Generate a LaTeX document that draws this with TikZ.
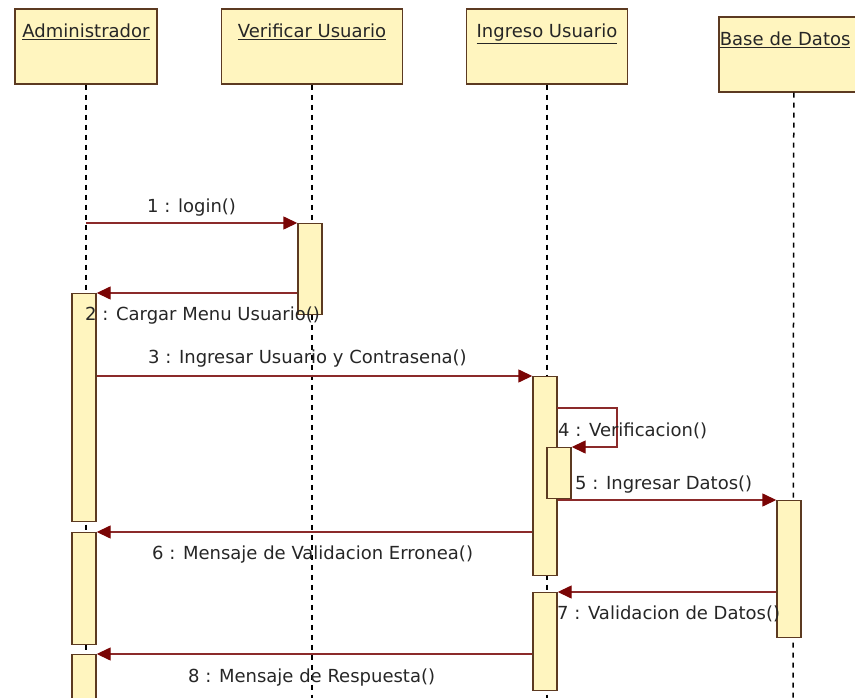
\documentclass[tikz,border=0pt]{standalone}
\usepackage{fontspec}
\setmainfont{DejaVu Sans}
\usepackage{tikz}
\usetikzlibrary{arrows.meta}
\definecolor{objfill}{HTML}{FFF5BF}
\definecolor{objdraw}{HTML}{5C3A21}
\definecolor{msgline}{HTML}{8B2A2A}
\definecolor{msghead}{HTML}{7A0505}
\definecolor{txtgray}{HTML}{262626}

\begin{document}
\begin{tikzpicture}[x=1pt, y=-1pt,
  every node/.style={font=\fontsize{18}{20}\selectfont, text=txtgray},
  objbox/.style={draw=objdraw, fill=objfill, line width=1.6pt, anchor=north, inner xsep=0pt, inner ysep=7pt, text height=22pt, text depth=39pt},
  actbox/.style={draw=objdraw, fill=objfill, line width=1.4pt, anchor=north, minimum width=24pt, inner sep=0pt},
  lifeline/.style={black, line width=1.5pt, dash pattern=on 5pt off 5pt},
  msg/.style={msgline, line width=1.4pt, -{Triangle[length=14pt, width=13pt, color=msghead]}},
  msglabel/.style={anchor=base west, inner sep=0pt}]
  \useasboundingbox (0,0) rectangle (855,698);
  \clip (0,0) rectangle (855,698);
  \node[objbox, minimum width=142pt] (admin) at (86,8) {\underline{Administrador}};
  \node[objbox, minimum width=181pt] (verif) at (312,8) {\underline{Verificar Usuario}};
  \node[objbox, minimum width=161pt] (ingreso) at (547,8) {\underline{Ingreso Usuario}};
  \node[objbox, anchor=north west, text width=148pt, align=left, inner xsep=1pt] (bdatos) at (718,16) {\underline{Base de Datos}};
  \coordinate (adminEnd) at (86,698);
  \coordinate (verifEnd) at (312,698);
  \coordinate (ingresoEnd) at (547,698);
  \coordinate (bdatosEnd) at (793,698);
  \draw[lifeline] (admin.south) -- (adminEnd);
  \draw[lifeline] (verif.south) -- (verifEnd);
  \draw[lifeline] (ingreso.south) -- (ingresoEnd);
  \draw[lifeline] (bdatos.south) -- (bdatosEnd);
  \node[actbox, minimum height=91pt] (actV1) at (310,223) {};
  \node[actbox, minimum height=228pt] (actA1) at (84,293) {};
  \node[actbox, minimum height=112pt] (actA2) at (84,532) {};
  \node[actbox, minimum height=60pt] (actA3) at (84,654) {};
  \node[actbox, minimum height=199pt] (actI1) at (545,376) {};
  \node[actbox, minimum height=51pt] (actI2) at (559,447) {};
  \node[actbox, minimum height=98pt] (actI3) at (545,592) {};
  \node[actbox, minimum height=137pt] (actB1) at (789,500) {};
  \coordinate (m1) at (86,223);
  \coordinate (m4) at (557,408);
  \draw[msg] (m1) -- (actV1.north west);
  \draw[msg] (actV1.west |- actA1.north) -- (actA1.north east);
  \draw[msg] (actA1.east |- actI1.north) -- (actI1.north west);
  \draw[msg] (m4) -- ++(60,0) |- (actI2.north east);
  \draw[msg] (actI1.east |- actB1.north) -- (actB1.north west);
  \draw[msg] (actI1.west |- actA2.north) -- (actA2.north east);
  \draw[msg] (actB1.west |- actI3.north) -- (actI3.north east);
  \draw[msg] (actI3.west |- actA3.north) -- (actA3.north east);
  \node[msglabel] (l1) at (147,213) {1 : login()};
  \node[msglabel] (l2) at (85,320) {2 : Cargar Menu Usuario()};
  \node[msglabel] (l3) at (148,363) {3 : Ingresar Usuario y Contrasena()};
  \node[msglabel] (l4) at (558,436) {4 : Verificacion()};
  \node[msglabel] (l5) at (575,489) {5 : Ingresar Datos()};
  \node[msglabel] (l6) at (152,559) {6 : Mensaje de Validacion Erronea()};
  \node[msglabel] (l7) at (557,619) {7 : Validacion de Datos()};
  \node[msglabel] (l8) at (188,682) {8 : Mensaje de Respuesta()};
\end{tikzpicture}
\end{document}
